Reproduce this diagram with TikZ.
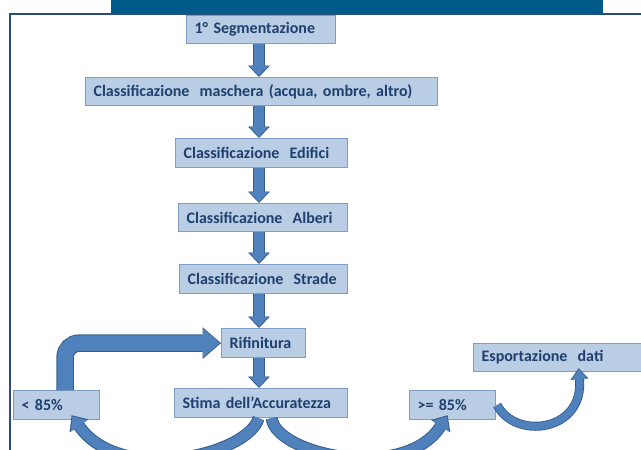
\documentclass[tikz,border=0pt]{standalone}
\usepackage{fontspec}
\setmainfont{Carlito}
\usetikzlibrary{arrows.meta,calc}
\definecolor{banner}{HTML}{005A8A}
\definecolor{frameblue}{HTML}{2A4E7C}
\definecolor{boxfill}{HTML}{B9CDE5}
\definecolor{boxline}{HTML}{7F9DC6}
\definecolor{txt}{HTML}{1F3F6E}
\definecolor{arrfill}{HTML}{4F81BD}
\definecolor{arredge}{HTML}{385D8A}
% #1 outer lw, #2 outer head width, #3 outer head length, #4 inner lw, #5 inner head width, #6 inner head length, #7 path
\newcommand\fatarrow[7]{%
  \draw[arredge, line width=#1, -{Triangle[width=#2,length=#3,line width=0pt]}] #7;
  \draw[arrfill, line width=#4, -{Triangle[width=#5,length=#6,line width=0pt]}, shorten >=1.3pt] #7;}
\newcommand\gap{\hspace{0.3em} }
\begin{document}
\begin{tikzpicture}[x=1pt,y=-1pt,
  box/.style={draw=boxline, line width=1.2pt, fill=boxfill, anchor=north west,
    inner xsep=8pt, inner ysep=0pt, text=txt,
    font=\fontsize{16}{18}\selectfont\bfseries, align=left}]
\useasboundingbox (0,0) rectangle (641,450);
\begin{scope}
\clip (0,0) rectangle (641,450);
\fill[banner] (111,0) rectangle (603,13);
\draw[frameblue, line width=1.5pt] (10,452) -- (10,14) -- (645,14);

\node[box, minimum width=149, minimum height=28, text width=133] (B1) at (186,15) {1° Segmentazione};
\node[box, minimum width=352, minimum height=28, text width=336] (B2) at (85,77) {Classificazione\gap maschera (acqua, ombre, altro)};
\node[box, minimum width=172, minimum height=29, text width=156] (B3) at (175,138) {Classificazione\gap Edifici};
\node[box, minimum width=169, minimum height=28, text width=153] (B4) at (178,203) {Classificazione\gap Alberi};
\node[box, minimum width=168, minimum height=29, text width=152] (B5) at (179,264) {Classificazione\gap Strade};
\node[box, minimum width=84, minimum height=29, text width=68] (B6) at (221,328) {Rifinitura};
\node[box, minimum width=173, minimum height=29, text width=157] (B7) at (174,388) {Stima dell’Accuratezza};
\node[box, minimum width=86, minimum height=29, text width=70] (B8) at (13,390) {< 85\%};
\node[box, minimum width=86, minimum height=29, text width=70] (B9) at (409,390) {>= 85\%};
\node[box, minimum width=180, minimum height=28, text width=164] (B10) at (473,343) {Esportazione\gap dati};

\coordinate (ax) at (259,0);
\fatarrow{11.6}{22}{11.5}{9.6}{19}{10}{(ax |- B1.south) -- (ax |- B2.north)}
\fatarrow{11.6}{22}{11.5}{9.6}{19}{10}{(ax |- B2.south) -- (ax |- B3.north)}
\fatarrow{11.6}{22}{11.5}{9.6}{19}{10}{(ax |- B3.south) -- (ax |- B4.north)}
\fatarrow{11.6}{22}{11.5}{9.6}{19}{10}{(ax |- B4.south) -- (ax |- B5.north)}
\fatarrow{11.6}{22}{11.5}{9.6}{19}{10}{(ax |- B5.south) -- (ax |- B6.north)}
\fatarrow{11.6}{22}{11.5}{9.6}{19}{10}{(ax |- B6.south) -- (ax |- B7.north)}

\fatarrow{17.4}{32}{18.5}{15.4}{29}{16.5}{[rounded corners=14pt] ([xshift=8.5pt]B8.north) |- (B6.west)}

\fatarrow{12}{23}{13}{10}{20}{11.5}{([xshift=-2.5pt]B7.south) .. controls (248,455) and (120,485) .. ([xshift=15pt,yshift=5pt]B8.south)}
\fatarrow{12}{23}{13}{10}{20}{11.5}{([xshift=10.5pt]B7.south) .. controls (276,455) and (405,482) .. ([xshift=-5pt,yshift=5pt]B9.south)}
\fatarrow{9}{18}{11}{7.2}{15.5}{9.5}{([xshift=1pt]B9.east) .. controls (515,440) and (584,432) .. ([xshift=15pt,yshift=4pt]B10.south)}
\end{scope}
\end{tikzpicture}
\end{document}
